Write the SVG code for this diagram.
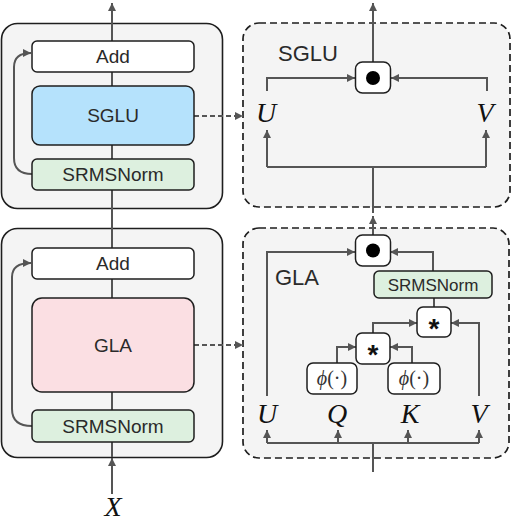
<svg xmlns="http://www.w3.org/2000/svg" width="512" height="522" viewBox="0 0 512 522">
<defs>
<marker id="ah" markerUnits="userSpaceOnUse" markerWidth="9" markerHeight="9" refX="8" refY="4" orient="auto">
<path d="M0,0 L8,4 L0,8 z" fill="#555"/>
</marker>
<style>
.outer{fill:#f4f4f4;stroke:#1e1e1e;stroke-width:1.6}
.dash{fill:#f4f4f4;stroke:#1e1e1e;stroke-width:1.7;stroke-dasharray:7,4}
.box{stroke:#1e1e1e;stroke-width:1.5}
.white{fill:#ffffff}
.blue{fill:#b5e2fc}
.pink{fill:#fbdfe3}
.green{fill:#ddf0df}
.ln{fill:none;stroke:#555;stroke-width:2}
.lbl{font-family:"Liberation Sans",Arial,sans-serif;font-size:19px;fill:#2a2a2a;text-anchor:middle}
.big{font-family:"Liberation Sans",Arial,sans-serif;font-size:22px;fill:#2a2a2a}
.math{font-family:"Liberation Serif","Times New Roman",serif;font-style:italic;font-size:28px;fill:#111;text-anchor:middle}
.phi{font-family:"Liberation Serif","Times New Roman",serif;font-size:20px;fill:#333;text-anchor:middle}
.star{font-family:"Liberation Sans",Arial,sans-serif;font-weight:bold;font-size:28px;fill:#111;text-anchor:middle}
</style>
</defs>

<g id="block-sglu-outer"><rect class="outer" x="1.5" y="23.5" width="221" height="185" rx="16"/></g>
<g id="block-gla-outer"><rect class="outer" x="1.5" y="228.5" width="221" height="229" rx="16"/></g>
<g id="sglu-detail"><rect class="dash" x="243" y="23" width="267" height="184" rx="16"/><text class="big" x="278" y="61">SGLU</text></g>
<g id="gla-detail"><rect class="dash" x="243" y="228" width="266" height="230" rx="16"/><text class="big" x="275" y="285">GLA</text></g>

<g id="connectors">
<path class="ln" d="M112,457 V3" marker-end="url(#ah)"/>
<path class="ln" d="M112,494 V458" marker-end="url(#ah)"/>
<path class="ln" d="M32,174 Q14,174 14,158 V67 Q14,53 31,53" marker-end="url(#ah)"/>
<path class="ln" d="M32,426 Q12,426 12,409 V277 Q12,263 31,263" marker-end="url(#ah)"/>
<path class="ln" d="M194,116 H243" stroke-dasharray="5,3" marker-end="url(#ah)"/>
<path class="ln" d="M194,345 H243" stroke-dasharray="5,3" marker-end="url(#ah)"/>
<path class="ln" d="M373,62 V3" marker-end="url(#ah)"/>
<path class="ln" d="M267,91 V78 H355" marker-end="url(#ah)"/>
<path class="ln" d="M487,91 V78 H391" marker-end="url(#ah)"/>
<path class="ln" d="M373,213 V167"/>
<path class="ln" d="M267,167 H486"/>
<path class="ln" d="M267,167 V130" marker-end="url(#ah)"/>
<path class="ln" d="M486,167 V130" marker-end="url(#ah)"/>
<path class="ln" d="M373,235 V216" marker-end="url(#ah)"/>
<path class="ln" d="M267,396 V252 H355" marker-end="url(#ah)"/>
<path class="ln" d="M433,271 V252 H390" marker-end="url(#ah)"/>
<path class="ln" d="M434,307 V298"/>
<path class="ln" d="M479,396 V323 H451" marker-end="url(#ah)"/>
<path class="ln" d="M373,333 V323 H417" marker-end="url(#ah)"/>
<path class="ln" d="M337,363 V347 H356" marker-end="url(#ah)"/>
<path class="ln" d="M412,363 V347 H390" marker-end="url(#ah)"/>
<path class="ln" d="M267,443 H479"/>
<path class="ln" d="M267,443 V430" marker-end="url(#ah)"/>
<path class="ln" d="M338,443 V430" marker-end="url(#ah)"/>
<path class="ln" d="M408,443 V430" marker-end="url(#ah)"/>
<path class="ln" d="M479,443 V430" marker-end="url(#ah)"/>
<path class="ln" d="M373,443 V472"/>
</g>

<g id="add1"><rect class="box white" x="32" y="41" width="162" height="31" rx="5"/><text class="lbl" x="113" y="63">Add</text></g>
<g id="sglu"><rect class="box blue" x="32" y="86" width="162" height="59" rx="8"/><text class="lbl" x="113" y="122">SGLU</text></g>
<g id="norm1"><rect class="box green" x="32" y="159" width="162" height="31" rx="5"/><text class="lbl" x="113" y="181">SRMSNorm</text></g>

<g id="add2"><rect class="box white" x="32" y="248" width="162" height="31" rx="5"/><text class="lbl" x="113" y="270">Add</text></g>
<g id="gla"><rect class="box pink" x="32" y="298" width="162" height="94" rx="10"/><text class="lbl" x="113" y="352">GLA</text></g>
<g id="norm2"><rect class="box green" x="32" y="410" width="162" height="32" rx="5"/><text class="lbl" x="113" y="433">SRMSNorm</text></g>

<g id="x-label"><text class="math" x="113" y="516">X</text></g>

<g id="sglu-mul"><rect class="box white" x="355.5" y="62" width="35" height="31" rx="7"/><circle cx="373" cy="78" r="7" fill="#000"/></g>
<g id="sglu-u"><text class="math" x="266" y="122">U</text></g>
<g id="sglu-v"><text class="math" x="485" y="122">V</text></g>

<g id="gla-mul"><rect class="box white" x="355.5" y="235" width="35" height="31" rx="7"/><circle cx="373" cy="250.5" r="7" fill="#000"/></g>
<g id="gla-norm"><rect class="box green" x="374" y="271" width="118" height="27" rx="5"/><text class="lbl" x="433" y="291" style="font-size:17px">SRMSNorm</text></g>
<g id="star1"><rect class="box white" x="417" y="307" width="34" height="30" rx="6"/><text class="star" x="434" y="338">*</text></g>
<g id="star2"><rect class="box white" x="356" y="333" width="34" height="31" rx="6"/><text class="star" x="373" y="364">*</text></g>
<g id="phi-q"><rect class="box white" x="307" y="363" width="50" height="31" rx="6"/><text class="phi" x="332" y="385"><tspan font-style="italic">ϕ</tspan>(·)</text></g>
<g id="phi-k"><rect class="box white" x="388" y="363" width="52" height="31" rx="6"/><text class="phi" x="414" y="385"><tspan font-style="italic">ϕ</tspan>(·)</text></g>
<g id="gla-u"><text class="math" x="267" y="423">U</text></g>
<g id="gla-q"><text class="math" x="337" y="423">Q</text></g>
<g id="gla-k"><text class="math" x="410" y="423">K</text></g>
<g id="gla-v"><text class="math" x="479" y="423">V</text></g>
</svg>
